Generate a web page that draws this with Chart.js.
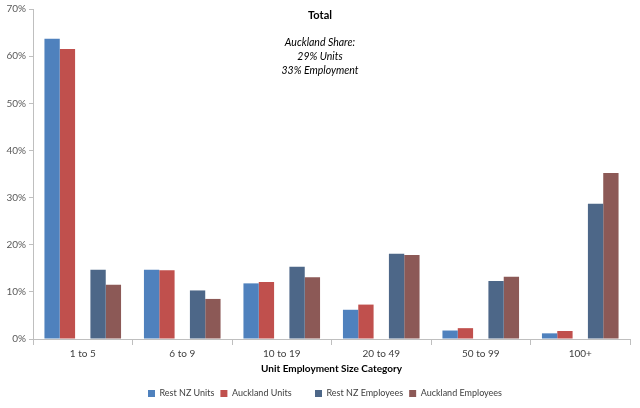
<!DOCTYPE html>
<html>
<head>
<meta charset="utf-8">
<script src="https://cdn.jsdelivr.net/npm/chart.js@4"></script>
<style>
  body { margin: 0; background: #fff; }
  #wrap { width: 640px; height: 408px; }
</style>
</head>
<body>
<div id="wrap"><canvas id="size-chart"></canvas></div>
<script>
const categories = ['1 to 5', '6 to 9', '10 to 19', '20 to 49', '50 to 99', '100+']
const rest_nz_units = [63.7, 14.7, 11.8, 6.2, 1.8, 1.2]
const auckland_units = [61.5, 14.6, 12.1, 7.3, 2.3, 1.7]
const rest_nz_employees = [14.7, 10.3, 15.3, 18.1, 12.3, 28.7]
const auckland_employees = [11.5, 8.5, 13.1, 17.8, 13.2, 35.2]
// blank series, leaves the gap between units and employees (like the excel one)
const spacer = [null, null, null, null, null, null]

const title_text = 'Total'
const note_lines = ['Auckland Share:', '29% Units', '33% Employment']

const fontName = 'Lato, "Open Sans", sans-serif'

// title sits inside the plot, so it is drawn by hand
const titlePlugin = {
    id: 'insideTitle',
    afterLayout(chart) {
        // legend in the original sits a bit right of centre
        chart.legend.left += 20
    },
    afterDraw(chart) {
        let ctx = chart.ctx
        ctx.save()
        ctx.fillStyle = '#000'
        ctx.textAlign = 'center'
        ctx.textBaseline = 'middle'
        ctx.font = 'bold 11px ' + fontName
        ctx.fillText(title_text, 320, 15)
        ctx.font = 'italic 10.5px ' + fontName
        note_lines.forEach((line, i) => {
            ctx.fillText(line, 320, 43 + i * 14)
        })
        ctx.restore()
    }
}

const data = {
    labels: categories,
    datasets: [
        { label: 'Rest NZ Units', data: rest_nz_units, backgroundColor: '#4F81BD' },
        { label: 'Auckland Units', data: auckland_units, backgroundColor: '#C0504D' },
        { label: '', data: spacer, backgroundColor: 'rgba(0,0,0,0)' },
        { label: 'Rest NZ Employees', data: rest_nz_employees, backgroundColor: '#4D6788' },
        { label: 'Auckland Employees', data: auckland_employees, backgroundColor: '#8C5956' },
    ]
}

const config = {
    type: 'bar',
    data: data,
    plugins: [titlePlugin],
    options: {
        responsive: true,
        maintainAspectRatio: false,
        animation: false,
        datasets: {
            bar: { categoryPercentage: 0.77, barPercentage: 1.0 }
        },
        layout: { padding: { top: 4, right: 10, left: 0, bottom: 0 } },
        plugins: {
            tooltip: { enabled: false },
            legend: {
                position: 'bottom',
                labels: {
                    boxWidth: 7,
                    boxHeight: 7,
                    padding: 6,
                    color: '#404040',
                    font: { family: fontName, size: 9 }
                }
            }
        },
        scales: {
            x: {
                grid: {
                    offset: true,
                    drawOnChartArea: false,
                    drawTicks: true,
                    tickLength: 6,
                    tickColor: '#BFBFBF'
                },
                border: { color: '#BFBFBF' },
                ticks: { color: '#404040', font: { family: fontName, size: 10 }, padding: 3 },
                title: {
                    display: true,
                    text: 'Unit Employment Size Category',
                    color: '#000',
                    font: { family: fontName, size: 10, weight: 'bold' },
                    padding: { top: 0, bottom: 8 }
                }
            },
            y: {
                min: 0,
                max: 70,
                ticks: {
                    stepSize: 10,
                    color: '#595959',
                    font: { family: fontName, size: 10 },
                    padding: 3,
                    callback: v => v + '%'
                },
                grid: {
                    drawOnChartArea: false,
                    drawTicks: true,
                    tickLength: 4,
                    tickColor: '#BFBFBF'
                },
                border: { color: '#BFBFBF' },
                afterFit(scale) { scale.width = 33 }
            }
        }
    }
}

let my_chart = document.querySelector('#size-chart')
let crt = new Chart(my_chart, config)
</script>
</body>
</html>
